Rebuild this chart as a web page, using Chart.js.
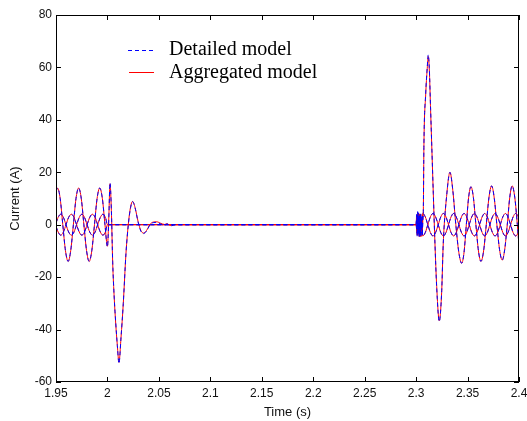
<!DOCTYPE html>
<html>
<head>
<meta charset="utf-8">
<title>Current vs time</title>
<script src="https://cdn.jsdelivr.net/npm/chart.js@4.4.1/dist/chart.umd.min.js"></script>
<style>
  html, body { margin: 0; padding: 0; background: #fff; }
  #wrap { width: 527px; height: 421px; }
</style>
</head>
<body>
<div id="wrap"><canvas id="chart" width="527" height="421"></canvas></div>
<script>
// axis ticks
const xTicks = [1.95, 2, 2.05, 2.1, 2.15, 2.2, 2.25, 2.3, 2.35, 2.4];
const xTickLabels = ["1.95", "2", "2.05", "2.1", "2.15", "2.2", "2.25", "2.3", "2.35", "2.4"];
const yTicks = [-60, -40, -20, 0, 20, 40, 60, 80];

const seriesNames = ["Detailed model", "Aggregated model"];

// phase a (the faulted phase), time in s
const timeA = [
  1.95, 1.9515, 1.9541, 1.9566, 1.9592, 1.9618, 1.9643, 1.9669, 1.9694, 1.972,
  1.9746, 1.9771, 1.9797, 1.9822, 1.9848, 1.9874, 1.9899, 1.9925, 1.9951, 1.9976,
  2.0, 2.0013, 2.0025, 2.0038, 2.0051, 2.0066, 2.008, 2.0096, 2.0112, 2.0132,
  2.0154, 2.018, 2.0203, 2.0225, 2.0245, 2.0268, 2.0298, 2.0325, 2.035, 2.038,
  2.0415, 2.0445, 2.048, 2.052, 2.0555, 2.058, 2.061, 2.064, 2.066, 2.3,
  2.3005, 2.301, 2.3015, 2.302, 2.3025, 2.303, 2.3035, 2.304, 2.3045, 2.305,
  2.3055, 2.306, 2.3065, 2.307, 2.3076, 2.3093, 2.3108, 2.3118, 2.3128, 2.3141,
  2.3167, 2.3183, 2.32, 2.3225, 2.3248, 2.3264, 2.3296, 2.3329, 2.3357, 2.3386,
  2.3415, 2.3443, 2.3466, 2.3488, 2.351, 2.3533, 2.3557, 2.3581, 2.3606, 2.363,
  2.3656, 2.3682, 2.3708, 2.3734, 2.376, 2.3785, 2.3811, 2.3837, 2.3861, 2.3886,
  2.391, 2.3934, 2.3959, 2.3984, 2.4
];
const detailedA = [
  12.6, 14, 9.9, 0, -9.9, -14, -9.9, 0, 9.9, 14,
  9.9, 0, -9.9, -14, -9.9, 0, 9.9, 14, 9.9, 0,
  -8.5, 2, 16, 6, -14, -28, -37, -46, -53, -43,
  -30, -11, 0, 6.5, 8.8, 6.5, 1, -2.5, -3.4, -2.4,
  0, 0.8, 0.9, 0.2, -0.2, 0.3, -0.5, -0.2, 0, 0,
  4, -4.5, 5, -3, 3.5, -5, 2, -4, 4.5, -2,
  3, -4, 1, 5, 31, 50, 60, 64.8, 60, 44,
  12, -7, -24, -37, -26, -7, 10.7, 20, 13, 0,
  -10.5, -14.7, -10.5, 0, 10.3, 14.5, 10.3, 0, -10, -14,
  -10, 0, 10.4, 14.8, 10, 0, -9.5, -13.5, -9.5, 0,
  10.4, 14.8, 10.4, 0, -8
];
const aggregatedA = [
  12.6, 14, 9.9, 0, -9.9, -14, -9.9, 0, 9.9, 14,
  9.9, 0, -9.9, -14, -9.9, 0, 9.9, 14, 9.9, 0,
  -8.2, 2.5, 15.6, 5.5, -14.5, -28, -37.5, -46, -52.5, -43,
  -30, -11, 0.3, 6.8, 8.9, 6.6, 1.2, -2.2, -3.2, -2.2,
  0.2, 1.0, 1.1, 0.5, 0.1, 0.4, -0.3, -0.1, 0, 0,
  3.5, -4, 4.5, -2.5, 3, -4.5, 2.5, -3.5, 4, -1.5,
  2.5, -3.5, 1.5, 5, 30.5, 49.5, 59.5, 64.2, 59.5, 43.5,
  12, -7, -23.5, -36.6, -26, -7, 10.7, 20, 13, 0,
  -10.5, -14.7, -10.5, 0, 10.3, 14.5, 10.3, 0, -10, -14,
  -10, 0, 10.4, 14.8, 10, 0, -9.5, -13.5, -9.5, 0,
  10.4, 14.8, 10.4, 0, -8
];

// phases b and c (shared time points)
const timeBC = [
  1.95, 1.9521, 1.9546, 1.9572, 1.9597, 1.9623, 1.9649, 1.9675, 1.97, 1.9726,
  1.9751, 1.9777, 1.9802, 1.9828, 1.9854, 1.988, 1.9905, 1.9931, 1.9956, 1.9982,
  2.0, 2.3, 2.3008, 2.3016, 2.3024, 2.3032, 2.304, 2.3048, 2.3056, 2.3064,
  2.3089, 2.3114, 2.3139, 2.3164, 2.3189, 2.3215, 2.324, 2.3265, 2.329, 2.3315,
  2.334, 2.3365, 2.339, 2.3416, 2.3441, 2.3466, 2.3491, 2.3516, 2.3541, 2.3566,
  2.3591, 2.3617, 2.3642, 2.3667, 2.3692, 2.3717, 2.3742, 2.3767, 2.3792, 2.3818,
  2.3843, 2.3868, 2.3893, 2.3918, 2.3943, 2.3968, 2.3993, 2.4
];
const currentB = [
  0.6, 2.8, 4, 2.8, 0, -2.8, -4, -2.8, 0, 2.8,
  4, 2.8, 0, -2.8, -4, -2.8, 0, 2.8, 4, 2.6,
  0, 0, 3.5, -4, 4.5, -3, 4, -4.5, 2, -4.3,
  -3, 0, 3, 4.3, 3, 0, -3, -4.3, -3, 0,
  3, 4.3, 3, 0, -3, -4.3, -3, 0, 3, 4.3,
  3, 0, -3, -4.3, -3, 0, 3, 4.3, 3, 0,
  -3, -4.3, -3, 0, 3, 4.3, 3, 2.4
];
const currentC = [
  -0.6, -2.8, -4, -2.8, 0, 2.8, 4, 2.8, 0, -2.8,
  -4, -2.8, 0, 2.8, 4, 2.8, 0, -2.8, -4, -2.6,
  0, 0, -3, 4.5, -3.5, 4, -4.5, 3, -2, 4.3,
  3, 0, -3, -4.3, -3, 0, 3, 4.3, 3, 0,
  -3, -4.3, -3, 0, 3, 4.3, 3, 0, -3, -4.3,
  -3, 0, 3, 4.3, 3, 0, -3, -4.3, -3, 0,
  3, 4.3, 3, 0, -3, -4.3, -3, -2.4
];

const BLUE = "#0000ff";
const RED = "#ff0000";

function points(times, values) {
  return times.map((t, i) => ({ x: t, y: values[i] }));
}

function lineSet(label, times, values, color, dashed) {
  return {
    label: label,
    data: points(times, values),
    borderColor: color,
    borderWidth: 1,
    borderDash: dashed ? [4, 3] : [],
    pointRadius: 0,
    fill: false,
    cubicInterpolationMode: "monotone"
  };
}

// blue sets first so they are painted on top of the red ones
const datasets = [
  lineSet(seriesNames[0], timeA, detailedA, BLUE, true),
  lineSet(seriesNames[0], timeBC, currentB, BLUE, true),
  lineSet(seriesNames[0], timeBC, currentC, BLUE, true),
  lineSet(seriesNames[1], timeA, aggregatedA, RED, false),
  lineSet(seriesNames[1], timeBC, currentB, RED, false),
  lineSet(seriesNames[1], timeBC, currentC, RED, false)
];

// box round the plot with inward ticks, matlab style, plus the legend
const frame = {
  id: "frame",
  afterDraw(chart) {
    const ctx = chart.ctx;
    const a = chart.chartArea;
    const xs = chart.scales.x, ys = chart.scales.y;
    ctx.save();
    ctx.strokeStyle = "#000";
    ctx.lineWidth = 1;
    ctx.setLineDash([]);
    ctx.strokeRect(a.left + 0.5, a.top + 0.5, a.right - a.left - 1, a.bottom - a.top - 1);
    ctx.beginPath();
    xTicks.forEach(v => {
      const px = Math.round(xs.getPixelForValue(v)) + 0.5;
      ctx.moveTo(px, a.bottom); ctx.lineTo(px, a.bottom - 5);
      ctx.moveTo(px, a.top); ctx.lineTo(px, a.top + 5);
    });
    yTicks.forEach(v => {
      const py = Math.round(ys.getPixelForValue(v)) + 0.5;
      ctx.moveTo(a.left, py); ctx.lineTo(a.left + 5, py);
      ctx.moveTo(a.right, py); ctx.lineTo(a.right - 5, py);
    });
    ctx.stroke();

    // legend
    ctx.font = '20px "Liberation Serif", "Times New Roman", serif';
    ctx.fillStyle = "#000";
    ctx.textBaseline = "alphabetic";
    ctx.textAlign = "left";
    ctx.strokeStyle = BLUE;
    ctx.setLineDash([4, 3]);
    ctx.beginPath(); ctx.moveTo(128, 50.5); ctx.lineTo(154, 50.5); ctx.stroke();
    ctx.strokeStyle = RED;
    ctx.setLineDash([]);
    ctx.beginPath(); ctx.moveTo(129, 72.5); ctx.lineTo(154, 72.5); ctx.stroke();
    ctx.fillText(seriesNames[0], 169, 55);
    ctx.fillText(seriesNames[1], 169, 78);
    ctx.restore();
  }
};

const tickFont = { family: '"Liberation Sans", Arial, sans-serif', size: 12 };
const titleFont = { family: '"Liberation Sans", Arial, sans-serif', size: 13 };

new Chart(document.getElementById("chart"), {
  type: "line",
  data: { datasets: datasets },
  options: {
    responsive: false,
    animation: false,
    events: [],
    layout: { padding: { left: 0, right: 8, top: 15, bottom: 0 } },
    plugins: { legend: { display: false }, tooltip: { enabled: false } },
    scales: {
      x: {
        type: "linear",
        min: 1.95,
        max: 2.4,
        grid: { display: false, drawTicks: false },
        border: { display: false },
        afterBuildTicks: s => { s.ticks = xTicks.map(v => ({ value: v })); },
        afterFit: s => { s.height = 39; s.paddingLeft = 0; s.paddingRight = 0; },
        ticks: {
          autoSkip: false,
          maxRotation: 0,
          padding: 4,
          color: "#111",
          font: tickFont,
          callback: (v, i) => xTickLabels[i]
        },
        title: { display: true, text: "Time (s)", color: "#111", font: titleFont, padding: { top: 0, bottom: 1 } }
      },
      y: {
        min: -60,
        max: 80,
        grid: { display: false, drawTicks: false },
        border: { display: false },
        afterBuildTicks: s => { s.ticks = yTicks.map(v => ({ value: v })); },
        afterFit: s => { s.width = 56; s.paddingTop = 0; s.paddingBottom = 0; },
        ticks: { padding: 4, color: "#111", font: tickFont },
        title: { display: true, text: "Current (A)", color: "#111", font: titleFont, padding: { top: 8, bottom: 0 } }
      }
    }
  },
  plugins: [frame]
});
</script>
</body>
</html>
